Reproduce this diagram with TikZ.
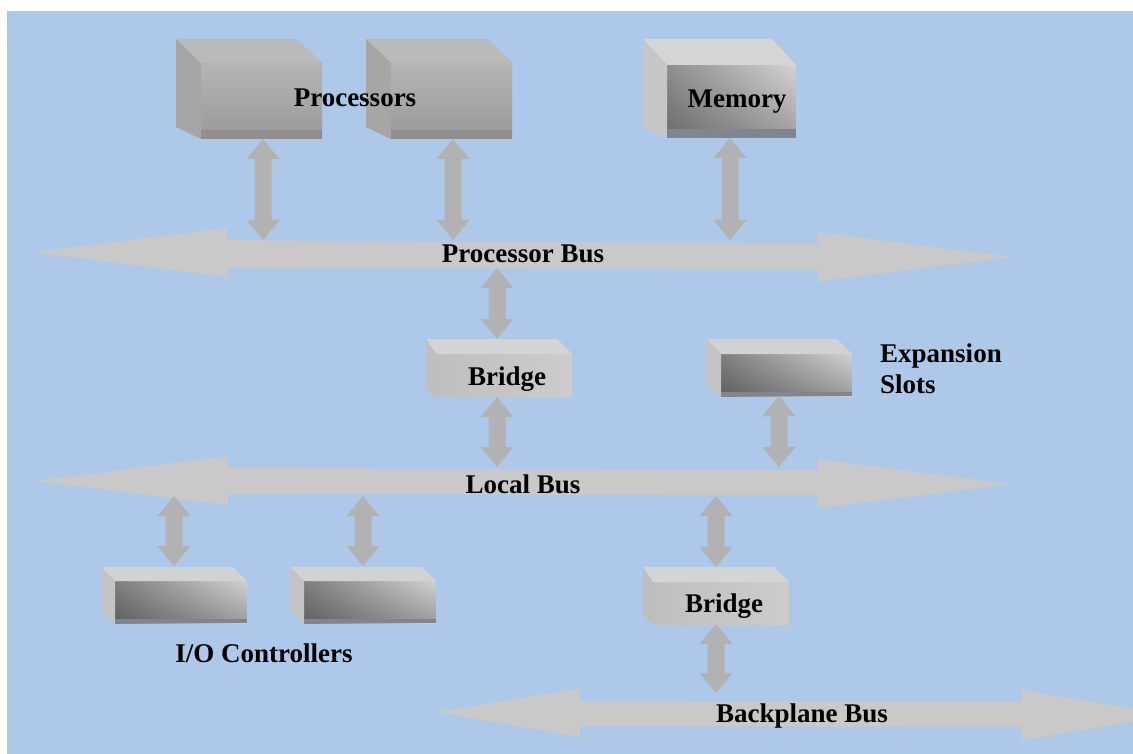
\documentclass[tikz,border=0pt]{standalone}
\usepackage{fontspec}
\setmainfont{Liberation Serif}
\usetikzlibrary{calc,fadings}
\definecolor{bg}{HTML}{ADC8E9}
\definecolor{busc}{HTML}{C9C9C9}
\definecolor{vgray}{HTML}{B2B2B2}
\definecolor{proctop}{HTML}{BABABA}
\definecolor{procside}{HTML}{A6A6A6}
\definecolor{memtop}{HTML}{D5D5D5}
\definecolor{memside}{HTML}{C6C6C6}
\definecolor{iotop}{HTML}{D2D2D2}
\definecolor{ioside}{HTML}{C3C3C3}
\definecolor{brtop}{HTML}{D4D4D4}
\definecolor{brside}{HTML}{BEBEBE}
\definecolor{slate}{HTML}{7F8692}
\definecolor{pstrip}{HTML}{8F8F8F}
\tikzfading[name=fadeup, top color=transparent!100, bottom color=transparent!0]
\tikzset{
  front/.style={rectangle, inner sep=0pt, outer sep=0pt},
  procfront/.style={front, top color=black!29, bottom color=black!40},
  memfront/.style={front, left color=black!44, right color=black!17},
  iofront/.style={front, left color=black!50, right color=black!18},
  brfront/.style={front, left color=black!25, right color=black!20},
  lbl/.style={font=\fontsize{27}{32}\selectfont\bfseries, inner sep=0pt, text=black, anchor=base},
}
\newcommand\faces[6]{%
  \fill[#6top] (#2,#3) -- (#4,#3) -- (#1.north east) -- (#1.north west) -- cycle;
  \fill[#6side] (#2,#3) -- (#1.north west) -- (#1.south west) -- (#2,#5) -- cycle;}
\newcommand\darken[1]{%
  \fill[black, path fading=fadeup, fill opacity=0.25] (#1.north west) rectangle (#1.south east);}
\newcommand\vdar[3][0pt]{%
  \fill[vgray] let \p1=#2, \p2=#3 in
  (\x1+#1,\y1) -- (\x1+#1+16.5pt,\y1-20pt) -- (\x1+#1+8.5pt,\y1-20pt)
  -- (\x1+#1+8.5pt,\y2+20pt) -- (\x1+#1+16.5pt,\y2+20pt) -- (\x1+#1,\y2)
  -- (\x1+#1-16.5pt,\y2+20pt) -- (\x1+#1-8.5pt,\y2+20pt)
  -- (\x1+#1-8.5pt,\y1-20pt) -- (\x1+#1-16.5pt,\y1-20pt) -- cycle;}
\begin{document}
\begin{tikzpicture}[x=1pt,y=-1pt]
\useasboundingbox (0,0) rectangle (1133,754);
\fill[white] (0,0) rectangle (1133,754);
\fill[bg] (7,11) rectangle (1133,754);
\begin{scope}
\clip (0,0) rectangle (1133,754);
% buses
\fill[busc] (32,252) -- (227,228) -- (227,240) -- (818,244) -- (818,232) -- (1013,257)
  -- (818,281) -- (818,269) -- (227,268) -- (227,277) -- cycle;
\fill[busc] (35,481) -- (228,456) -- (228,468) -- (818,470) -- (818,459) -- (1010,484)
  -- (818,508) -- (818,495) -- (228,494) -- (228,505) -- cycle;
\fill[busc] (437,712) -- (580,688) -- (580,701) -- (1022,702) -- (1022,690) -- (1172,715)
  -- (1022,740) -- (1022,727) -- (580,726) -- (580,737) -- cycle;
\end{scope}
\coordinate (pbT) at (0,240);
\coordinate (pbB) at (0,268);
\coordinate (lbT) at (0,467);
\coordinate (lbB) at (0,496);
\coordinate (bpT) at (0,693);
% boxes
\node[procfront, minimum width=121pt, minimum height=76pt] (P1) at (261.5,101) {};
\faces{P1}{176}{39}{297}{127}{proc}
\fill[pstrip] (P1.south west) rectangle ([yshift=9pt]P1.south east);
\node[procfront, minimum width=121pt, minimum height=76pt] (P2) at (451.5,101) {};
\faces{P2}{366}{39}{488}{127}{proc}
\fill[pstrip] (P2.south west) rectangle ([yshift=9pt]P2.south east);
\node[memfront, minimum width=129pt, minimum height=73pt] (M) at (731.5,101.5) {};
\darken{M}
\faces{M}{643}{39}{772}{127}{mem}
\fill[slate] (M.south west) rectangle ([yshift=9pt]M.south east);
\node[brfront, minimum width=136pt, minimum height=43pt] (B1) at (504,375.5) {};
\faces{B1}{426}{339}{557}{388}{br}
\node[iofront, minimum width=131pt, minimum height=42pt] (EX) at (786.5,375) {};
\darken{EX}
\faces{EX}{706}{339}{837}{385}{io}
\fill[slate] (EX.south west) rectangle ([yshift=4pt]EX.south east);
\node[iofront, minimum width=132pt, minimum height=42pt] (IO1) at (181,602) {};
\darken{IO1}
\faces{IO1}{101}{567}{233}{610}{io}
\fill[slate] (IO1.south west) rectangle ([yshift=4pt]IO1.south east);
\node[iofront, minimum width=132pt, minimum height=42pt] (IO2) at (370,602) {};
\darken{IO2}
\faces{IO2}{290}{567}{422}{610}{io}
\fill[slate] (IO2.south west) rectangle ([yshift=4pt]IO2.south east);
\node[brfront, minimum width=136pt, minimum height=42pt] (B2) at (721,603) {};
\faces{B2}{643}{567}{774}{615}{br}
% vertical arrows
\vdar[1.5pt]{(P1.south)}{(P1.south |- pbT)}
\vdar[1.5pt]{(P2.south)}{(P2.south |- pbT)}
\vdar[-1.5pt]{(M.south)}{(M.south |- pbT)}
\vdar[-7pt]{(B1.north |- pbB)}{([yshift=15pt]B1.north)}
\vdar[-7pt]{(B1.south)}{(B1.south |- lbT)}
\vdar[-7.5pt]{(EX.south)}{(EX.south |- lbT)}
\vdar[-7pt]{(IO1.north |- lbB)}{([yshift=15pt]IO1.north)}
\vdar[-7pt]{(IO2.north |- lbB)}{([yshift=15pt]IO2.north)}
\vdar[-5pt]{(B2.north |- lbB)}{([yshift=15pt]B2.north)}
\vdar[-5pt]{(B2.south)}{(B2.south |- bpT)}
% labels
\node[lbl] (tproc) at (355,107) {Processors};
\node[lbl] (tmem) at (737,108) {Memory};
\node[lbl] (tpb) at (523,263) {Processor Bus};
\node[lbl] (tb1) at (507,385) {Bridge};
\node[lbl, anchor=base west] (tex1) at (880,362) {Expansion};
\node[lbl, anchor=base west] (tex2) at (880,393) {Slots};
\node[lbl] (tlb) at (523,493) {Local Bus};
\node[lbl] (tio) at (264,662) {I/O Controllers};
\node[lbl] (tb2) at (724,612) {Bridge};
\node[lbl] (tbp) at (802,722) {Backplane Bus};
\end{tikzpicture}
\end{document}
